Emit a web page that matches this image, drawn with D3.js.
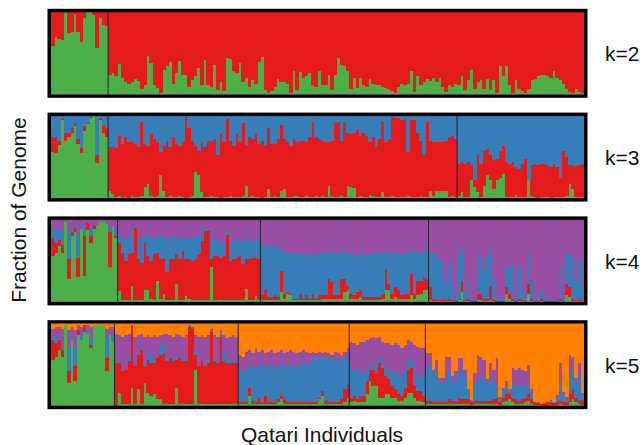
<!DOCTYPE html>
<html>
<head>
<meta charset="utf-8">
<script src="https://cdn.jsdelivr.net/npm/d3@7"></script>
<style>
  body { margin: 0; background: #fff; }
  text { font-family: "Liberation Sans", Arial, sans-serif; fill: #111; }
</style>
</head>
<body>
<svg id="chart" width="644" height="445"></svg>
<script>
// Ancestry fractions (%) per Qatari individual, left to right.
// k=2
const k2Green = [
  59, 70, 68, 66, 100, 75, 76, 97, 76, 64, 93, 100, 100, 97, 56, 93, 85, 83,
  24, 26, 22, 37, 20, 15, 12, 15, 19, 16, 7, 11, 47, 38, 11, 8, 1, 30, 34, 39, 13, 26, 41, 24, 23, 9, 17, 22, 32, 11, 42, 11, 9, 36, 5, 15, 4, 44, 43, 28, 26, 38, 15, 20, 9, 17, 13, 39, 45, 5, 2, 4, 9, 19, 15, 15, 13, 2, 28, 5, 27, 20, 22, 26, 11, 9,
  28, 11, 11, 24, 5, 24, 44, 36, 35, 28, 7, 20, 8, 20, 11, 9, 19, 13, 11, 11, 9, 8, 7, 4, 1, 9, 13, 11, 12, 28, 3, 22, 11, 15, 19, 16, 20, 15, 20, 9, 3, 11, 9, 13, 11, 22, 5, 17, 30, 7, 15, 17, 7, 19, 5, 17, 1, 35, 22, 34, 11, 2, 17, 7, 4, 1, 7, 17, 19, 22, 23, 24, 22, 20, 28, 20, 17, 12, 7, 3, 2, 6, 3, 2
];
const k2Red = [
  41, 30, 32, 34, 0, 25, 24, 3, 24, 36, 7, 0, 0, 3, 44, 7, 15, 17,
  76, 74, 78, 63, 80, 85, 88, 85, 81, 84, 93, 89, 53, 62, 89, 92, 99, 70, 66, 61, 87, 74, 59, 76, 77, 91, 83, 78, 68, 89, 58, 89, 91, 64, 95, 85, 96, 56, 57, 72, 74, 62, 85, 80, 91, 83, 87, 61, 55, 95, 98, 96, 91, 81, 85, 85, 87, 98, 72, 95, 73, 80, 78, 74, 89, 91,
  72, 89, 89, 76, 95, 76, 56, 64, 65, 72, 93, 80, 92, 80, 89, 91, 81, 87, 89, 89, 91, 92, 93, 96, 99, 91, 87, 89, 88, 72, 97, 78, 89, 85, 81, 84, 80, 85, 80, 91, 97, 89, 91, 87, 89, 78, 95, 83, 70, 93, 85, 83, 93, 81, 95, 83, 99, 65, 78, 66, 89, 98, 83, 93, 96, 99, 93, 83, 81, 78, 77, 76, 78, 80, 72, 80, 83, 88, 93, 97, 98, 94, 97, 98
];

// k=3
const k3Green = [
  56, 55, 65, 95, 70, 75, 80, 88, 66, 55, 82, 90, 98, 100, 43, 95, 80, 75,
  9, 5, 1, 2, 1, 1, 0, 2, 1, 1, 2, 13, 17, 2, 1, 3, 28, 9, 1, 2, 1, 1, 2, 1, 0, 1, 2, 32, 28, 7, 1, 1, 2, 1, 1, 0, 1, 1, 2, 1, 1, 1, 2, 15, 1, 2, 1, 1, 0, 1, 11, 1, 2, 1, 9, 11, 1, 1, 3, 3, 1, 1, 2, 1, 1, 2,
  1, 2, 1, 15, 3, 1, 1, 2, 1, 15, 13, 12, 1, 2, 1, 1, 4, 2, 1, 1, 7, 1, 1, 2, 1, 1, 1, 1, 2, 1, 1, 1, 2, 1, 1, 9, 2, 9, 9, 9, 9, 1, 2, 1,
  2, 7, 1, 1, 22, 13, 7, 1, 15, 28, 22, 11, 22, 24, 30, 1, 1, 1, 4, 1, 1, 1, 22, 2, 1, 0, 1, 1, 1, 0, 1, 1, 1, 1, 3, 17, 11, 1, 1, 1
];
const k3Red = [
  18, 20, 5, 3, 10, 5, 5, 4, 6, 6, 6, 2, 1, 0, 10, 3, 8, 10,
  53, 57, 60, 74, 65, 73, 68, 66, 65, 61, 91, 53, 47, 76, 71, 65, 28, 55, 69, 60,
  73, 65, 62, 67, 99, 84, 68, 32, 30, 61, 61, 69, 68, 71, 51, 78, 67, 96, 68, 63,
  77, 67, 89, 49, 73, 70, 77, 65, 70, 63, 74, 65, 64, 71, 80, 61, 67, 63, 69, 65,
  69, 69, 66, 73, 92, 72, 71, 68, 67, 53, 67, 90, 92, 68, 92, 65, 65, 68, 82, 74,
  79, 75, 64, 72, 61, 71, 86, 67, 71, 97, 97, 97, 94, 96, 54, 94, 94, 79, 68, 51,
  92, 61, 66, 59, 59, 59, 61, 73, 74, 71,
  40, 37, 41, 43, 18, 9, 45, 41, 43, 32, 30, 35, 26, 34, 33, 43, 41, 43, 34, 35, 41, 47, 0, 38, 41, 40, 40, 41, 39, 38, 41, 37, 23, 56, 47, 23, 29, 38, 39, 40
];
const k3Blue = [
  26, 25, 30, 2, 20, 20, 15, 8, 28, 39, 12, 8, 1, 0, 47, 2, 12, 15,
  38, 38, 39, 24, 34, 26, 32, 32, 34, 38, 7, 34, 36, 22, 28, 32, 44, 36, 30, 38,
  26, 34, 36, 32, 1, 15, 30, 36, 42, 32, 38, 30, 30, 28, 48, 22, 32, 3, 30, 36,
  22, 32, 9, 36, 26, 28, 22, 34, 30, 36, 15, 34, 34, 28, 11, 28, 32, 36, 28, 32,
  30, 30, 32, 26, 7, 26, 28, 30, 32, 32, 30, 9, 7, 30, 7, 20, 22, 20, 17, 24,
  20, 24, 32, 26, 38, 28, 7, 32, 28, 1, 2, 2, 5, 3, 44, 5, 5, 20, 30, 48,
  7, 30, 32, 32, 32, 32, 30, 26, 24, 28,
  58, 56, 58, 56, 60, 78, 48, 58, 42, 40, 48, 54, 52, 42, 37, 56, 58, 56, 62, 64, 58, 52, 78, 60, 58, 60, 59, 58, 60, 62, 58, 62, 76, 43, 50, 60, 60, 61, 60, 59
];

// k=4
const k4Green = [
  56, 60, 68, 60, 97, 28, 80, 85, 30, 89, 32, 88, 72, 89, 93, 99, 97, 95, 42, 91, 78,
  13, 2, 2, 2, 20, 2, 2, 2, 15, 14, 4, 2, 26, 4, 10, 2, 2, 2, 22, 2, 2, 7, 4, 2, 2, 2, 2, 2, 2, 42, 2, 2, 2, 2, 2, 2, 2, 2, 2, 2, 16, 2, 2, 7, 2,
  2, 2, 2, 2, 2, 2, 12, 4, 10, 8, 2, 2, 2, 2, 2, 2, 2, 2, 2, 3, 3, 4, 4, 3, 3, 4, 12, 14, 4, 3, 4, 6, 2, 2, 2, 2, 2, 2, 4, 14, 14, 4, 6, 4, 3, 4, 4, 8, 4, 8, 10, 14, 14,
  2, 1, 1, 1, 1, 1, 1, 1, 0, 2, 12, 1, 1, 0, 0, 2, 2, 1, 1, 2, 1, 0, 0, 0, 10, 4, 1, 0, 1, 1, 0, 10, 1, 0, 0, 1, 0, 0, 0, 0, 0, 1, 0, 8, 6, 1, 1, 1, 1
];
const k4Red = [
  22, 12, 8, 10, 0, 24, 5, 5, 24, 0, 48, 8, 8, 5, 0, 0, 0, 0, 43, 0, 2,
  59, 58, 48, 56, 40, 88, 50, 46, 57, 42, 46, 56, 34, 48, 44, 34, 50, 50, 36, 50, 60, 45, 48, 48, 50, 56, 72, 84, 84, 10, 54, 54, 52, 54, 80, 48, 50, 52, 54, 44, 36, 50, 52, 47, 50,
  6, 12, 4, 4, 6, 4, 26, 6, 2, 2, 2, 2, 8, 2, 6, 2, 8, 2, 6, 5, 5, 24, 20, 5, 5, 24, 16, 6, 6, 5, 8, 8, 4, 4, 4, 4, 4, 4, 6, 26, 8, 6, 12, 10, 5, 6, 6, 26, 6, 18, 16, 16, 14,
  16, 2, 1, 1, 2, 1, 2, 1, 1, 2, 14, 1, 2, 1, 1, 8, 8, 2, 2, 18, 1, 1, 1, 1, 8, 6, 2, 1, 2, 1, 1, 12, 2, 1, 1, 2, 1, 1, 1, 1, 1, 2, 1, 14, 12, 2, 1, 2, 1
];
const k4Blue = [
  12, 16, 12, 16, 0, 34, 5, 2, 30, 3, 8, 0, 10, 0, 0, 0, 0, 0, 5, 3, 8,
  8, 18, 26, 22, 30, 4, 24, 30, 8, 26, 28, 18, 20, 30, 24, 44, 22, 28, 20, 24, 18, 26, 24, 30, 26, 22, 14, 2, 2, 26, 20, 18, 22, 16, 4, 26, 22, 24, 20, 28, 26, 24, 20, 22, 26,
  60, 56, 62, 64, 58, 62, 26, 52, 48, 52, 56, 54, 50, 52, 50, 56, 46, 54, 52, 52, 54, 30, 40, 52, 48, 34, 36, 40, 48, 52, 44, 44, 54, 50, 52, 54, 56, 52, 50, 22, 42, 50, 40, 46, 48, 52, 50, 30, 48, 36, 34, 32, 36,
  44, 57, 56, 50, 47, 22, 45, 15, 4, 56, 42, 9, 25, 3, 1, 46, 44, 37, 53, 46, 26, 4, 3, 2, 26, 32, 43, 3, 39, 13, 4, 36, 21, 1, 1, 12, 3, 1, 1, 0, 2, 45, 1, 38, 42, 53, 22, 49, 15
];
const k4Purple = [
  10, 12, 12, 14, 3, 14, 10, 8, 16, 8, 12, 4, 10, 6, 7, 1, 3, 5, 10, 6, 12,
  20, 22, 24, 20, 10, 6, 24, 22, 20, 18, 22, 24, 20, 18, 22, 20, 26, 20, 22, 24, 20, 22, 24, 20, 22, 20, 12, 12, 12, 22, 24, 26, 24, 28, 14, 24, 26, 22, 24, 26, 22, 24, 26, 24, 22,
  32, 30, 32, 30, 34, 32, 36, 38, 40, 38, 40, 42, 40, 44, 42, 40, 44, 42, 40, 40, 38, 42, 36, 40, 44, 38, 36, 40, 42, 40, 44, 42, 40, 44, 42, 40, 38, 42, 40, 38, 36, 40, 42, 40, 44, 38, 40, 36, 42, 38, 40, 38, 36,
  38, 40, 42, 48, 50, 76, 52, 83, 95, 40, 32, 89, 72, 96, 98, 44, 46, 60, 44, 34, 72, 95, 96, 97, 56, 58, 54, 96, 58, 85, 95, 42, 76, 98, 98, 85, 96, 98, 98, 99, 97, 52, 98, 40, 40, 44, 76, 48, 83
];

// k=5
const k5Green = [
  56, 60, 68, 60, 99, 28, 80, 30, 86, 80, 90, 88, 70, 97, 99, 99, 98, 42, 88, 78,
  0, 16, 2, 2, 2, 22, 2, 20, 2, 28, 16, 12, 14, 8, 8, 2, 2, 2, 2, 22, 2, 2, 2, 2, 2, 44, 2, 2, 2, 2, 2, 2, 2, 2, 2, 2, 2, 2, 2,
  2, 2, 2, 12, 2, 2, 2, 2, 2, 2, 2, 2, 4, 8, 2, 2, 2, 2, 2, 2, 2, 2, 2, 2, 2, 8, 12, 2, 2, 2, 2, 2, 2, 4, 10,
  4, 6, 4, 4, 4, 14, 30, 24, 24, 10, 10, 14, 14, 10, 10, 6, 6, 10, 16, 16, 10, 6, 6, 4,
  2, 2, 2, 2, 2, 2, 2, 2, 2, 2, 2, 2, 2, 2, 1, 2, 2, 2, 2, 2, 2, 2, 2, 1, 4, 6, 8, 4, 2, 2, 2, 4, 6, 2, 1, 1, 0, 0, 0, 1, 0, 1, 2, 1, 1, 4, 8, 4, 2, 1
];
const k5Red = [
  24, 16, 12, 8, 0, 14, 0, 18, 6, 0, 8, 0, 4, 0, 0, 0, 0, 16, 0, 0,
  52, 36, 40, 42, 52, 76, 46, 42, 66, 20, 40, 40, 38, 50, 54, 62, 52, 56, 52, 34, 56, 52, 52, 94, 92, 18, 46, 52, 46, 50, 88, 52, 50, 82, 52, 50, 50, 50, 50,
  2, 2, 2, 10, 4, 2, 8, 2, 10, 2, 2, 2, 4, 4, 6, 2, 2, 2, 2, 2, 2, 2, 2, 2, 2, 2, 6, 4, 2, 2, 2, 2, 6, 16, 16,
  6, 6, 4, 8, 8, 16, 14, 20, 16, 42, 36, 22, 18, 14, 10, 8, 6, 12, 28, 30, 14, 12, 12, 8,
  4, 4, 2, 2, 2, 2, 2, 6, 4, 4, 8, 6, 6, 6, 4, 4, 4, 4, 4, 4, 4, 6, 8, 4, 6, 8, 6, 6, 6, 4, 6, 6, 8, 6, 3, 2, 2, 3, 4, 4, 3, 4, 4, 4, 4, 10, 12, 6, 4, 6
];
const k5Blue = [
  4, 6, 4, 8, 0, 30, 6, 24, 0, 8, 0, 6, 10, 0, 0, 0, 0, 26, 0, 8,
  0, 2, 2, 0, 4, 0, 2, 4, 6, 6, 12, 10, 4, 2, 14, 10, 4, 2, 2, 2, 4, 2, 2, 2, 0, 4, 2, 2, 2, 4, 2, 4, 2, 4, 12, 4, 2, 2, 2,
  40, 38, 40, 26, 40, 42, 38, 44, 36, 42, 46, 40, 42, 38, 40, 42, 50, 46, 42, 50, 48, 48, 48, 54, 56, 50, 42, 52, 54, 54, 52, 52, 48, 40, 38,
  38, 30, 36, 30, 28, 14, 8, 6, 12, 6, 8, 10, 12, 16, 22, 24, 24, 22, 12, 10, 20, 20, 20, 24,
  44, 46, 36, 42, 26, 24, 36, 34, 22, 26, 32, 36, 26, 10, 2, 22, 26, 28, 30, 22, 30, 22, 14, 4, 10, 12, 4, 16, 16, 18, 16, 14, 12, 8, 1, 1, 0, 0, 0, 2, 1, 6, 26, 8, 4, 28, 30, 16, 32, 6
];
const k5Purple = [
  10, 14, 12, 18, 0, 20, 10, 20, 6, 8, 0, 4, 12, 0, 0, 0, 0, 10, 8, 10,
  36, 32, 40, 42, 30, 0, 34, 20, 14, 30, 18, 22, 30, 24, 10, 14, 30, 26, 28, 30, 24, 28, 30, 0, 2, 20, 34, 30, 34, 30, 2, 28, 30, 4, 20, 26, 30, 32, 30,
  18, 18, 22, 20, 18, 24, 18, 20, 16, 20, 18, 20, 16, 18, 16, 20, 14, 16, 18, 12, 16, 14, 12, 8, 4, 6, 4, 8, 6, 4, 10, 8, 6, 6, 6,
  30, 34, 30, 36, 38, 36, 30, 34, 30, 26, 24, 30, 32, 34, 34, 36, 34, 30, 24, 22, 30, 34, 32, 34,
  14, 12, 4, 10, 4, 6, 20, 18, 8, 10, 16, 14, 10, 2, 0, 12, 30, 26, 20, 4, 16, 14, 34, 2, 2, 4, 2, 20, 20, 22, 20, 18, 24, 4, 0, 0, 0, 0, 0, 0, 0, 2, 20, 4, 2, 20, 10, 8, 14, 2
];
const k5Orange = [
  6, 4, 4, 6, 1, 8, 4, 8, 2, 4, 2, 2, 4, 3, 1, 1, 2, 6, 4, 4,
  12, 14, 16, 14, 12, 2, 16, 14, 12, 16, 14, 16, 14, 16, 14, 12, 12, 14, 16, 12, 14, 16, 14, 2, 4, 14, 16, 14, 16, 14, 6, 14, 16, 8, 14, 18, 16, 14, 16,
  38, 40, 34, 32, 36, 30, 34, 32, 36, 34, 32, 36, 34, 32, 36, 34, 32, 34, 36, 34, 32, 34, 36, 34, 36, 34, 36, 34, 36, 38, 34, 36, 38, 34, 30,
  22, 24, 26, 22, 22, 20, 18, 16, 18, 16, 22, 24, 24, 26, 24, 26, 30, 26, 20, 22, 26, 28, 30, 30,
  36, 36, 56, 44, 66, 66, 40, 40, 64, 58, 42, 42, 56, 80, 93, 60, 38, 40, 44, 68, 48, 56, 42, 89, 78, 70, 80, 54, 56, 54, 56, 58, 50, 80, 95, 96, 98, 97, 96, 93, 96, 87, 48, 83, 89, 38, 40, 66, 48, 85
];

// Cluster sizes (individuals per cluster block) for each K
const k2Groups = [18, 150];
const k3Groups = [18, 110, 40];
const k4Groups = [21, 45, 53, 49];
const k5Groups = [20, 39, 35, 24, 50];

const panelLabels = ["k=2", "k=3", "k=4", "k=5"];

// Set1 colours, stacked bottom -> top
const colors = {
  green: "#4daf4a",
  red: "#e41a1c",
  blue: "#377eb8",
  purple: "#984ea3",
  orange: "#ff7f00"
};

const panels = [
  { label: panelLabels[0], groups: k2Groups, series: { green: k2Green, red: k2Red } },
  { label: panelLabels[1], groups: k3Groups, series: { green: k3Green, red: k3Red, blue: k3Blue } },
  { label: panelLabels[2], groups: k4Groups, series: { green: k4Green, red: k4Red, blue: k4Blue, purple: k4Purple } },
  { label: panelLabels[3], groups: k5Groups, series: { green: k5Green, red: k5Red, blue: k5Blue, purple: k5Purple, orange: k5Orange } }
];

const svg = d3.select("#chart");
const left = 51, right = 584;
const panelHeight = 82, panelStep = 103.8, firstTop = 12.3;
const n = k2Green.length;

const x = d3.scaleBand().domain(d3.range(n)).range([left, right]).paddingInner(0).paddingOuter(0);

panels.forEach((panel, pi) => {
  const top = firstTop + pi * panelStep;
  const y = d3.scaleLinear().domain([0, 1]).range([top + panelHeight, top]);
  const keys = Object.keys(panel.series);

  const rows = d3.range(n).map(i => {
    const row = { idx: i };
    keys.forEach(k => { row[k] = panel.series[k][i]; });
    return row;
  });

  // normalise each individual to 1 (rows of a Q matrix)
  const stacked = d3.stack().keys(keys).offset(d3.stackOffsetExpand)(rows);

  const g = svg.append("g").attr("class", "panel");

  g.selectAll("g.layer")
    .data(stacked)
    .enter()
    .append("g")
    .attr("class", "layer")
    .attr("fill", s => colors[s.key])
    .selectAll("rect")
    .data(s => s)
    .enter()
    .append("rect")
    .attr("x", d => x(d.data.idx))
    .attr("width", x.bandwidth() + 0.5)
    .attr("y", d => y(d[1]))
    .attr("height", d => Math.max(0, y(d[0]) - y(d[1])))
    .attr("shape-rendering", "crispEdges");

  // cluster dividers
  const bounds = d3.cumsum(panel.groups).slice(0, -1);
  g.selectAll("line.divider")
    .data(bounds)
    .enter()
    .append("line")
    .attr("class", "divider")
    .attr("x1", b => x(b))
    .attr("x2", b => x(b))
    .attr("y1", top)
    .attr("y2", top + panelHeight)
    .attr("stroke", "#222")
    .attr("stroke-width", 1);

  // frame
  g.append("rect")
    .attr("x", left - 1.75)
    .attr("y", top - 1.75)
    .attr("width", right - left + 3.5)
    .attr("height", panelHeight + 3.5)
    .attr("fill", "none")
    .attr("stroke", "#000")
    .attr("stroke-width", 3.5);

  g.append("text")
    .attr("x", 605)
    .attr("y", top + panelHeight / 2 + 8)
    .style("font-size", "21px")
    .text(panel.label);
});

svg.append("text")
  .attr("x", 322)
  .attr("y", 442)
  .attr("text-anchor", "middle")
  .style("font-size", "21px")
  .text("Qatari Individuals");

svg.append("text")
  .attr("transform", "translate(26, 210) rotate(-90)")
  .attr("text-anchor", "middle")
  .style("font-size", "21px")
  .text("Fraction of Genome");
</script>
</body>
</html>
